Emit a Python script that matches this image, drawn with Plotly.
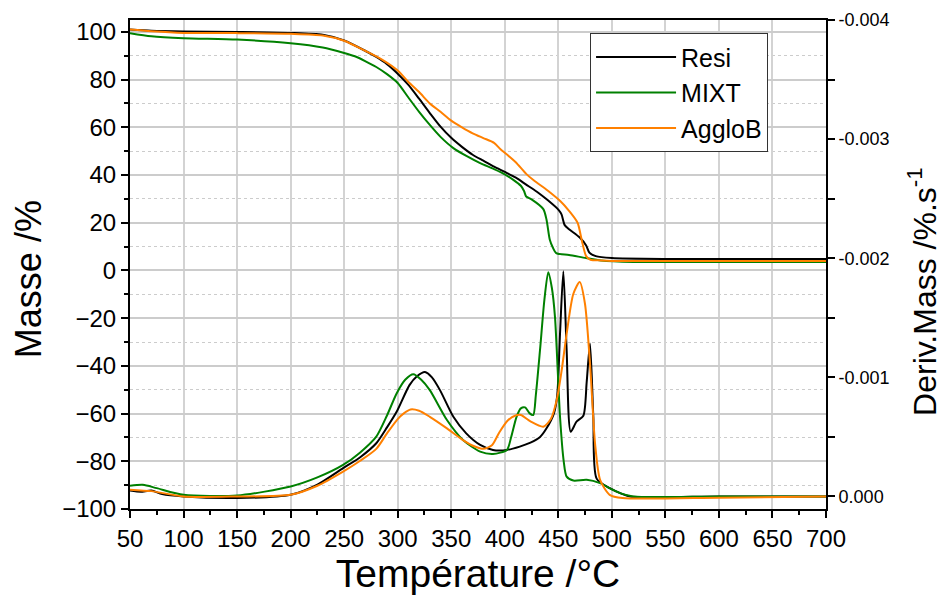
import plotly.graph_objects as go

# ---- Mass curves (Masse /%) ----
resi_T = [50, 70, 100, 150, 200, 230, 250, 270, 280, 290, 300, 310, 320, 330, 340, 350, 360, 370, 380, 390,
          400, 410, 420, 430, 440, 450, 453, 456, 460, 470, 476, 479, 485, 500, 550, 600, 650, 700]
resi_m = [101, 100.5, 100.2, 100, 99.6, 98.8, 96.4, 92, 89.5, 86.5, 82.5, 77.8, 72, 66, 60.3, 55.6, 51.8, 48.5, 46, 43.5,
          41.3, 39, 36, 33, 29.5, 25.5, 23.5, 19, 17.3, 13.8, 10.5, 7.5, 6, 5.2, 4.8, 4.8, 4.8, 4.8]

mixt_T = [50, 70, 100, 150, 200, 230, 250, 260, 270, 280, 290, 300, 310, 320, 330, 340, 352, 365, 377, 390,
          400, 408, 415, 418, 420, 425, 436, 439, 442, 445, 448, 460, 476, 490, 520, 600, 700]
mixt_m = [99.5, 98.2, 97.4, 96.8, 95.3, 93.5, 91.2, 89.8, 87.7, 85.3, 82.3, 78.6, 72.5, 66.5, 61, 56, 51.3, 47.8, 45,
          42.5, 40.3, 38, 35.5, 33.3, 31, 29.8, 25.7, 21.3, 13, 9.5, 7.3, 6.5, 5.2, 4.2, 3.6, 3.5, 3.5]

agglo_T = [50, 70, 100, 150, 200, 230, 250, 270, 285, 300, 310, 320, 330, 340, 350, 360, 370, 380, 390,
           396, 402, 410, 420, 427, 440, 452, 460, 468, 472, 476, 480, 490, 500, 600, 700]
agglo_m = [101, 100.3, 99.6, 99.5, 99.2, 98.5, 96.3, 92, 88.5, 83.8, 79, 74.8, 70, 66.5, 62.8, 60, 57.5, 55.5, 53.5,
           50.8, 48.6, 45.5, 40.5, 37.8, 33.5, 29, 25, 20, 12.5, 6, 4.5, 4.2, 4.0, 4.0, 4.0]

# ---- Derivative curves (Deriv.Mass /%.s-1) ----
resi_dT = [50, 60, 70, 80, 100, 150, 200, 225, 249, 265, 280, 290, 299, 311, 318, 325.5, 332, 339.5, 352, 364,
           377, 389, 402, 414, 424, 433, 439, 446, 449, 451.6, 454.7, 457.8, 461.6, 467, 473.4, 476.5, 479.6,
           482.7, 485.8, 498, 510, 517, 600, 700]
resi_d = [-0.00005, -0.00004, -0.00005, -0.00002, 0.0, 0.000013, -0.000014, -0.0001, -0.000238, -0.00033,
          -0.000447, -0.00058, -0.000711, -0.000935, -0.00101, -0.001046, -0.001, -0.000893, -0.000669, -0.00053,
          -0.000433, -0.000391, -0.000391, -0.000419, -0.000452, -0.0005, -0.000572, -0.0007, -0.00085, -0.001367,
          -0.001891, -0.001228, -0.000544, -0.000628, -0.000678, -0.00096, -0.001284, -0.000669, -0.00015,
          -0.00007, -0.00002, 0.0, 0.0, 0.0]

mixt_dT = [50, 62, 75, 100, 150, 200, 225, 249, 265, 280, 290, 299, 307, 314.6, 322, 330, 346, 361, 377, 389,
           402, 406, 411, 415, 419, 423, 426.6, 429, 432.9, 437, 440.6, 444, 446.9, 451.6, 455, 457.8, 464, 476.5,
           489, 500, 507.6, 520, 600, 700]
mixt_d = [-0.00009, -0.000098, -0.00007, -0.000014, -0.000008, -0.000084, -0.00016, -0.000265, -0.00037,
          -0.000502, -0.00068, -0.000865, -0.00098, -0.001027, -0.00098, -0.000893, -0.000642, -0.000474,
          -0.000377, -0.000357, -0.000391, -0.0005, -0.000669, -0.00074, -0.000748, -0.0007, -0.000684, -0.00085,
          -0.001228, -0.00165, -0.001883, -0.00175, -0.001506, -0.000669, -0.0003, -0.000167, -0.000134, -0.00014,
          -0.000112, -0.00006, -0.000028, 0.0, 0.0, 0.0]

agglo_dT = [50, 60, 70, 100, 150, 200, 225, 249, 265, 280, 290, 300, 306, 312, 320, 330, 346, 361, 372, 380,
            388, 395, 403, 410, 415, 424, 436, 443, 448.5, 453, 457.8, 464, 470, 474.9, 479.6, 484.3, 489, 498, 510,
            600, 700]
agglo_d = [-0.000056, -0.00005, -0.000045, 0.0, 0.0, -0.000014, -0.00009, -0.000209, -0.0003, -0.0004,
           -0.00053, -0.00065, -0.0007, -0.000731, -0.00072, -0.000669, -0.000572, -0.000474, -0.00042, -0.0004,
           -0.00043, -0.00054, -0.00064, -0.00068, -0.000684, -0.00063, -0.000586, -0.00065, -0.000809, -0.00105,
           -0.001367, -0.0017, -0.0018, -0.001618, -0.001116, -0.000447, -0.00014, -0.000014, 0.000013, 0.00001, 0.0]

BLACK = "#000000"
GREEN = "#008000"
ORANGE = "#FF8000"
FONT = "Liberation Sans, Arial, sans-serif"

fig = go.Figure()
line_kw = dict(shape="spline", smoothing=0.7, width=2)

fig.add_trace(go.Scatter(x=resi_T, y=resi_m, name="Resi", mode="lines",
                         line=dict(color=BLACK, **line_kw)))
fig.add_trace(go.Scatter(x=mixt_T, y=mixt_m, name="MIXT", mode="lines",
                         line=dict(color=GREEN, **line_kw)))
fig.add_trace(go.Scatter(x=agglo_T, y=agglo_m, name="AggloB", mode="lines",
                         line=dict(color=ORANGE, **line_kw)))

fig.add_trace(go.Scatter(x=resi_dT, y=resi_d, name="Resi", mode="lines", yaxis="y2", showlegend=False,
                         line=dict(color=BLACK, **line_kw)))
fig.add_trace(go.Scatter(x=mixt_dT, y=mixt_d, name="MIXT", mode="lines", yaxis="y2", showlegend=False,
                         line=dict(color=GREEN, **line_kw)))
fig.add_trace(go.Scatter(x=agglo_dT, y=agglo_d, name="AggloB", mode="lines", yaxis="y2", showlegend=False,
                         line=dict(color=ORANGE, **line_kw)))

right_ticks = [0.0, -0.001, -0.002, -0.003, -0.004]
right_labels = ["0.000", "-0.001", "-0.002", "-0.003", "-0.004"]

fig.update_layout(
    width=939, height=587,
    margin=dict(l=122, r=121, t=12, b=86),
    paper_bgcolor="white", plot_bgcolor="white",
    font=dict(family=FONT, color="black"),
    showlegend=True,
    legend=dict(x=0.661, y=0.973, xanchor="left", yanchor="top",
                bgcolor="white", bordercolor="#333333", borderwidth=1,
                font=dict(size=25, family=FONT), itemwidth=80, tracegroupgap=0),
    xaxis=dict(
        range=[50, 700], tick0=50, dtick=50, automargin=False,
        ticks="outside", ticklen=7, tickwidth=2, tickcolor="black",
        showline=True, linecolor="black", linewidth=2, mirror=True,
        showgrid=True, gridcolor="#d3d3d3", gridwidth=1.5,
        minor=dict(dtick=25, tick0=50, ticks="outside", ticklen=4, tickwidth=2, tickcolor="black", showgrid=False),
        tickfont=dict(size=24), zeroline=False,
        title=dict(text="Température /°C", font=dict(size=39), standoff=15),
    ),
    yaxis=dict(
        range=[-100, 105], tick0=0, dtick=20, automargin=False,
        ticks="outside", ticklen=7, tickwidth=2, tickcolor="black",
        showline=True, linecolor="black", linewidth=2,
        showgrid=True, gridcolor="#cccccc", gridwidth=1.5, zeroline=False,
        minor=dict(dtick=10, ticks="outside", ticklen=4, tickwidth=2, tickcolor="black",
                   showgrid=True, gridcolor="#cccccc", griddash="dot", gridwidth=1),
        tickfont=dict(size=24),
    ),
    yaxis2=dict(
        overlaying="y", side="right", anchor="x", automargin=False,
        range=[0.000105, -0.004],
        tickmode="array", tickvals=right_ticks, ticktext=right_labels,
        ticks="outside", ticklen=7, tickwidth=2, tickcolor="black",
        showline=True, linecolor="black", linewidth=2,
        showgrid=False, zeroline=False,
        minor=dict(tickmode="array", tickvals=[-0.0005, -0.0015, -0.0025, -0.0035],
                   ticks="outside", ticklen=7, tickwidth=2, tickcolor="black", showgrid=False),
        tickfont=dict(size=18),
    ),
    annotations=[
        dict(text="Masse /%", xref="paper", yref="paper", x=-0.1466, y=0.470,
             xanchor="center", yanchor="middle", textangle=-90, showarrow=False,
             font=dict(size=36, family=FONT, color="black")),
        dict(text="Deriv.Mass /%.s<sup>-1</sup>", xref="paper", yref="paper", x=1.138, y=0.444,
             xanchor="center", yanchor="middle", textangle=-90, showarrow=False,
             font=dict(size=32, family=FONT, color="black")),
    ],
)

fig.write_html("out.html")
